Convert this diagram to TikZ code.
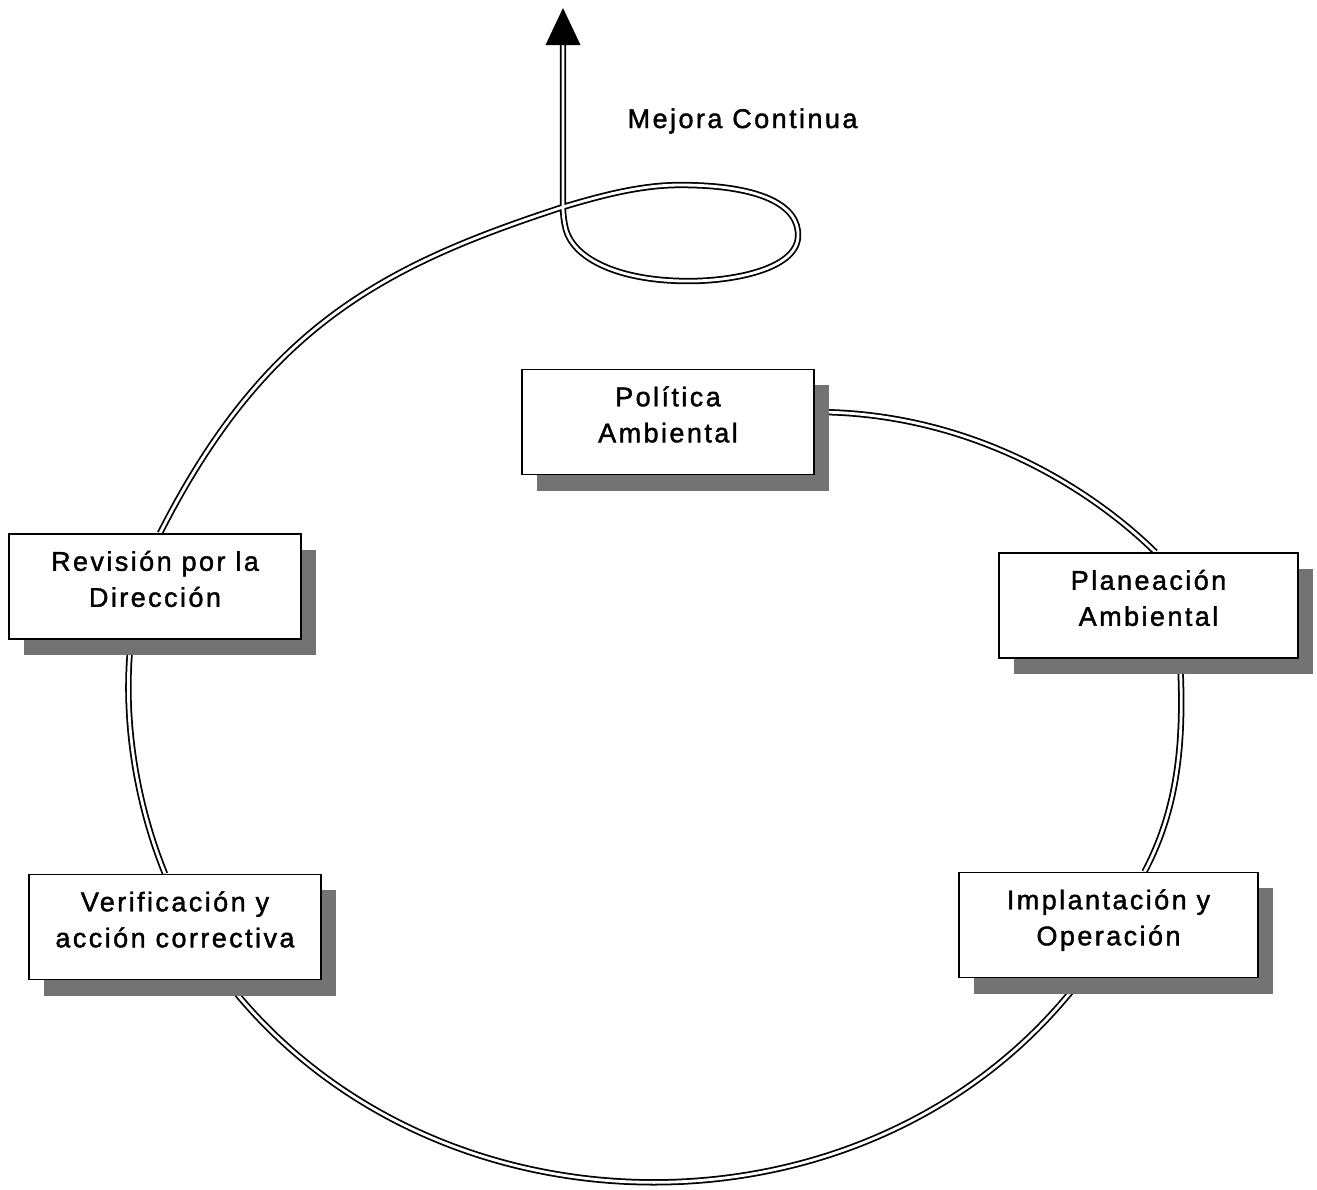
\documentclass[tikz,border=0pt]{standalone}
\usepackage{fontspec}
\newfontfamily\lblfont{Liberation Sans}[LetterSpace=9,FakeBold=1.5]
\usetikzlibrary{calc,shadows}
\pgfdeclarelayer{background}
\pgfsetlayers{background,main}
% two centred lines inside a stage box, set slightly above the box centre
\newcommand\twolines[2]{\raisebox{1.4pt}[\height][\depth]{\begin{tabular}{@{}c@{}}#1\\#2\end{tabular}}}
\begin{document}
\begin{tikzpicture}[x=0.01cm,y=-0.01cm,
  lbl/.style={font=\lblfont\fontsize{7.68pt}{10.24pt}\selectfont},
  stagebox/.style={lbl, draw, line width=0.45pt, fill=white, inner sep=0pt,
    minimum height=1.05cm,
    drop shadow={shadow xshift=0.15cm, shadow yshift=-0.16cm, fill=black!55, opacity=1}},
  ring/.style={draw, line width=0.5pt, double=white, double distance=0.8pt}]
\useasboundingbox (0,0) rectangle (1317,1190);

% stages of the cycle
\node[stagebox, minimum width=2.92cm] (pol)   at (668,422)    {\twolines{Política}{Ambiental}};
\node[stagebox, minimum width=2.99cm] (plan)  at (1148.5,605.5) {\twolines{Planeación}{Ambiental}};
\node[stagebox, minimum width=2.99cm] (impl)  at (1108.5,925) {\twolines{Implantación y}{Operación}};
\node[stagebox, minimum width=2.92cm] (verif) at (175,927)    {\twolines{Verificación y}{acción correctiva}};
\node[stagebox, minimum width=2.92cm] (rev)   at (155,586.5)  {\twolines{Revisión por la}{Dirección}};

\node[lbl, inner sep=0pt, anchor=base west] (mejora) at (627,128) {Mejora Continua};
\coordinate (tip) at (563,45);

% spiral running through the stages
\begin{pgfonlayer}{background}
\draw[ring] ($(pol.east)+(0,-10)$) .. controls (964,412) and (1085,483) .. ($(plan.north)+(7,0)$);
\draw[ring] ($(plan.south)+(31.5,0)$) .. controls (1184,735) and (1180,805) .. ($(impl.north)+(36,0)$);
\draw[ring] ($(impl.south)+(-27,0)$) .. controls (875,1250) and (435,1250) .. ($(verif.south)+(51,0)$);
\draw[ring] ($(verif.north)+(-10,0)$) .. controls (137,805) and (122,720) .. ($(rev.south)+(-24,0)$);
\draw[ring] ($(rev.north)+(5,0)$) .. controls (265,326) and (385,265) .. (563,207)
  .. controls (600,196) and (640,185) .. (680,185)
  .. controls (760,185) and (800,205) .. (798,237)
  .. controls (796,270) and (730,282) .. (683,281)
  .. controls (620,280) and (575,260) .. (566,230)
  .. controls (564,222) and (563,215) .. (563,207) -- (tip);
\end{pgfonlayer}
% arrowhead of the upward exit
\fill (tip) ++(-17.5,0) -- (563,8) -- (580.5,45) -- cycle;
\end{tikzpicture}
\end{document}
